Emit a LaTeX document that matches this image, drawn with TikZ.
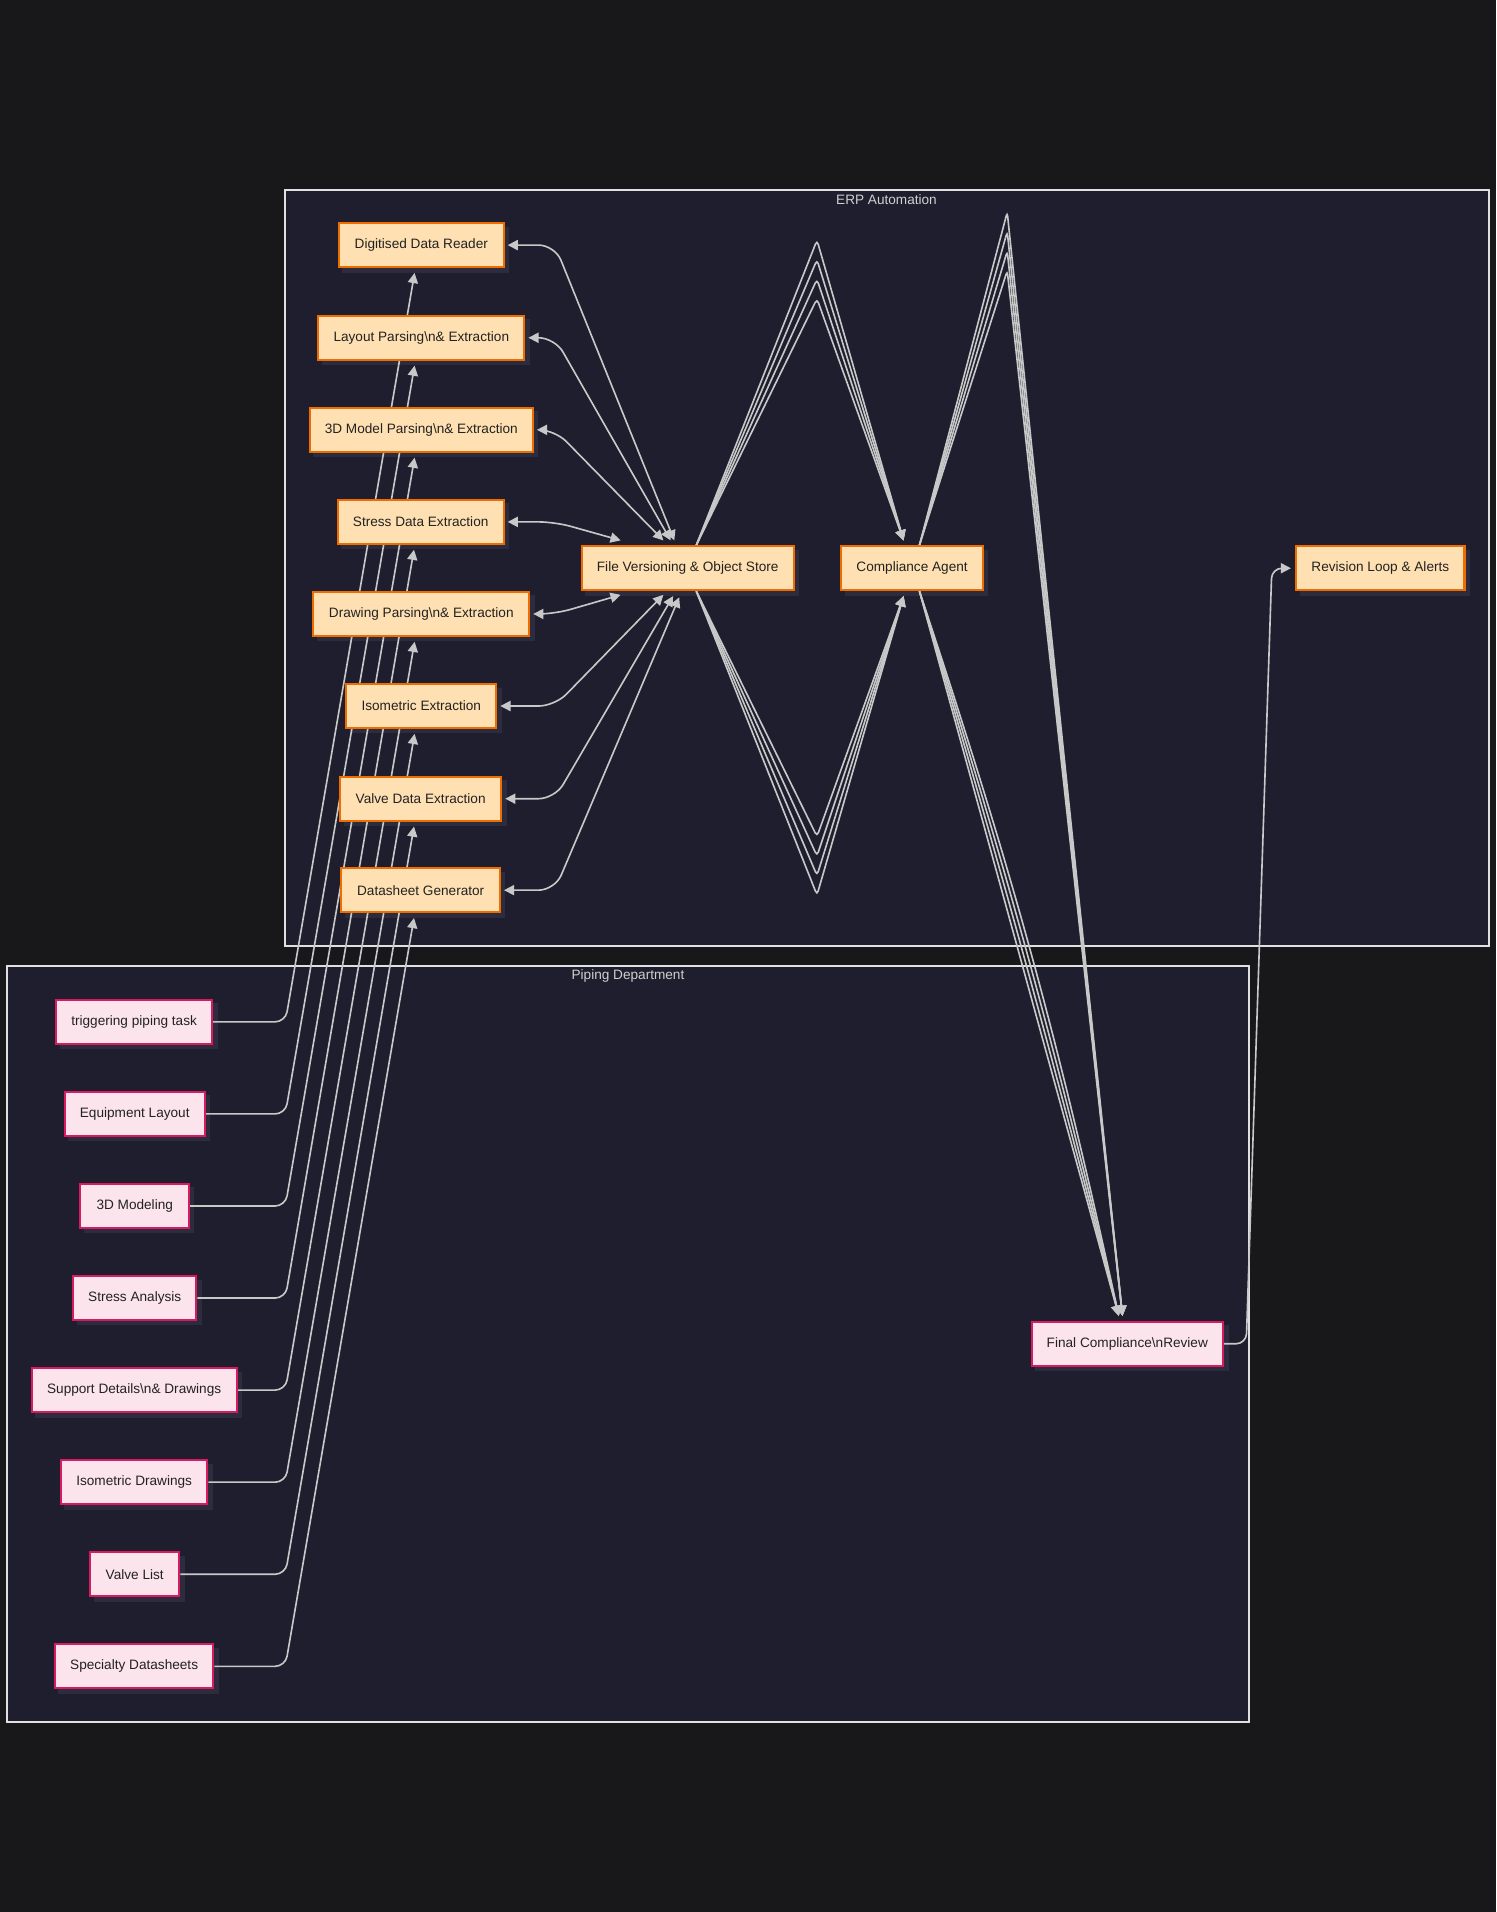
\documentclass[tikz,border=0pt]{standalone}
\usepackage{fontspec}
\setmainfont{Liberation Sans}
\usetikzlibrary{arrows.meta,calc}
\definecolor{pagebg}{HTML}{18181B}
\definecolor{clfill}{HTML}{1E1E2E}
\definecolor{clline}{HTML}{E0E0E0}
\definecolor{cllabel}{HTML}{D0D0D0}
\definecolor{orfill}{HTML}{FFE0B2}
\definecolor{orline}{HTML}{EF6C00}
\definecolor{pkfill}{HTML}{FCE4EC}
\definecolor{pkline}{HTML}{D81B60}
\definecolor{edgec}{HTML}{C8C8C8}
\definecolor{shadc}{HTML}{2C2C3E}
\definecolor{txtc}{HTML}{222222}
\newcommand\dfont{\fontsize{6.7}{8}\selectfont}
\pgfdeclarelayer{bglayer}
\pgfdeclarelayer{shadowlayer}
\pgfdeclarelayer{edgelayer}
\pgfsetlayers{bglayer,shadowlayer,edgelayer,main}
\tikzset{
  basebox/.style={rectangle, line width=1pt, minimum height=21.6pt, inner sep=0pt,
    text=txtc, font=\dfont},
  erpbox/.style={basebox, draw=orline, fill=orfill},
  pipebox/.style={basebox, draw=pkline, fill=pkfill},
  cluster/.style={draw=clline, fill=clfill, line width=0.9pt},
  cllbl/.style={text=cllabel, font=\dfont, inner sep=0pt},
  shadowbox/.style={fill=shadc},
  edge/.style={draw=edgec, line width=0.8pt},
  arr/.style={-{Triangle[length=5pt,width=5pt]}},
  barr/.style={{Triangle[length=5pt,width=5pt]}-{Triangle[length=5pt,width=5pt]}}
}
\begin{document}
\begin{tikzpicture}[x=0.6pt, y=-0.6pt]
\useasboundingbox (0,0) rectangle (1227,1568);
\begin{pgfonlayer}{bglayer}
  \fill[pagebg] (0,0) rectangle (1227,1568);
  \draw[cluster] (234,156) rectangle (1221,776);
  \draw[cluster] (6,792) rectangle (1024,1412);
\end{pgfonlayer}
\node[cllbl] (erplbl) at (727,163.5) {ERP Automation};
\node[cllbl] (pipelbl) at (515,800.5) {Piping Department};

% ERP nodes
\node[erpbox, minimum width=81pt]    (o1) at (345.5,201) {Digitised Data Reader};
\node[erpbox, minimum width=101.4pt] (o2) at (345.5,277) {Layout Parsing\textbackslash n\& Extraction};
\node[erpbox, minimum width=109.8pt] (o3) at (345.5,352.5) {3D Model Parsing\textbackslash n\& Extraction};
\node[erpbox, minimum width=81.6pt]  (o4) at (345,428) {Stress Data Extraction};
\node[erpbox, minimum width=106.2pt] (o5) at (345.5,503.5) {Drawing Parsing\textbackslash n\& Extraction};
\node[erpbox, minimum width=73.8pt]  (o6) at (345.5,579) {Isometric Extraction};
\node[erpbox, minimum width=79.2pt]  (o7) at (345,655) {Valve Data Extraction};
\node[erpbox, minimum width=78pt]    (o8) at (345,730) {Datasheet Generator};
\node[erpbox, minimum width=104.4pt] (fv) at (564,466) {File Versioning \& Object Store};
\node[erpbox, minimum width=69.6pt]  (ca) at (748,466) {Compliance Agent};
\node[erpbox, minimum width=82.8pt]  (rv) at (1132,466) {Revision Loop \& Alerts};

% Piping nodes
\node[pipebox, minimum width=76.8pt]  (p1) at (110,838) {triggering piping task};
\node[pipebox, minimum width=69pt]    (p2) at (110.5,913.5) {Equipment Layout};
\node[pipebox, minimum width=53.4pt]  (p3) at (110.5,989) {3D Modeling};
\node[pipebox, minimum width=60.6pt]  (p4) at (110.5,1064.5) {Stress Analysis};
\node[pipebox, minimum width=100.8pt] (p5) at (110,1140) {Support Details\textbackslash n\& Drawings};
\node[pipebox, minimum width=72pt]    (p6) at (110,1215.5) {Isometric Drawings};
\node[pipebox, minimum width=43.8pt]  (p7) at (110.5,1291) {Valve List};
\node[pipebox, minimum width=78pt]    (p8) at (110,1366.5) {Specialty Datasheets};
\node[pipebox, minimum width=94.2pt]  (fc) at (924.5,1102) {Final Compliance\textbackslash nReview};

\begin{pgfonlayer}{shadowlayer}
  \foreach \n in {o1,o2,o3,o4,o5,o6,o7,o8,fv,ca,rv,p1,p2,p3,p4,p5,p6,p7,p8,fc}{
    \fill[shadowbox] ([shift={(2.2pt,-2.2pt)}]\n.south west) rectangle ([shift={(2.2pt,-2.2pt)}]\n.north east);
  }
\end{pgfonlayer}

\coordinate (vx) at (234,0);
\coordinate (bx) at (455,0);

\begin{pgfonlayer}{edgelayer}
  % piping -> ERP
  \foreach \i in {1,...,8}{
    \draw[edge,arr,rounded corners=5pt] (p\i.east) -- (p\i.east -| vx) -- ([xshift=-3.3pt,yshift=-2.4pt]o\i.south);
  }
  % ERP <-> File store
  \foreach \i/\dx/\anc/\dy in {1/-6.6/north/2.4, 2/-8.4/north/2.4, 3/-12/north/2.4, 4/-33/north/2.4,
                               5/-33/south/-1.8, 6/-12/south/-1.8, 7/-7.2/south/-2.4, 8/-4.2/south/-3}{
    \draw[edge,barr,rounded corners=8pt] ([xshift=1.5pt]o\i.east) -- (o\i.east -| bx) -- ([xshift=\dx pt,yshift=\dy pt]fv.\anc);
  }
  % File store -> Compliance
  \foreach \py in {197,213,229,245}{
    \draw[edge,arr,rounded corners=2pt] ([xshift=4.2pt]fv.north) -- (670,\py) -- ([xshift=-4.2pt,yshift=2.4pt]ca.north);
  }
  \foreach \py in {686,702,718,734}{
    \draw[edge,arr,rounded corners=2pt] ([xshift=4.2pt]fv.south) -- (670,\py) -- ([xshift=-4.2pt,yshift=-2.4pt]ca.south);
  }
  % Compliance -> Final
  \foreach \py in {174,190,206,222}{
    \draw[edge,arr,rounded corners=2pt] ([xshift=3.6pt]ca.north) -- (826,\py) -- ([xshift=-2.4pt,yshift=2.4pt]fc.north);
  }
  \foreach \b in {0,1,2,3}{
    \draw[edge,arr] ([xshift=3.6pt]ca.south) to[bend left=\b] ([xshift=-4.2pt,yshift=2.4pt]fc.north);
  }
  % Final -> Revision
  \draw[edge,arr,rounded corners=5pt] (fc.east) -- (1022,1102) -- (1043,466) -- ([xshift=-2.1pt]rv.west);
\end{pgfonlayer}
\end{tikzpicture}
\end{document}
